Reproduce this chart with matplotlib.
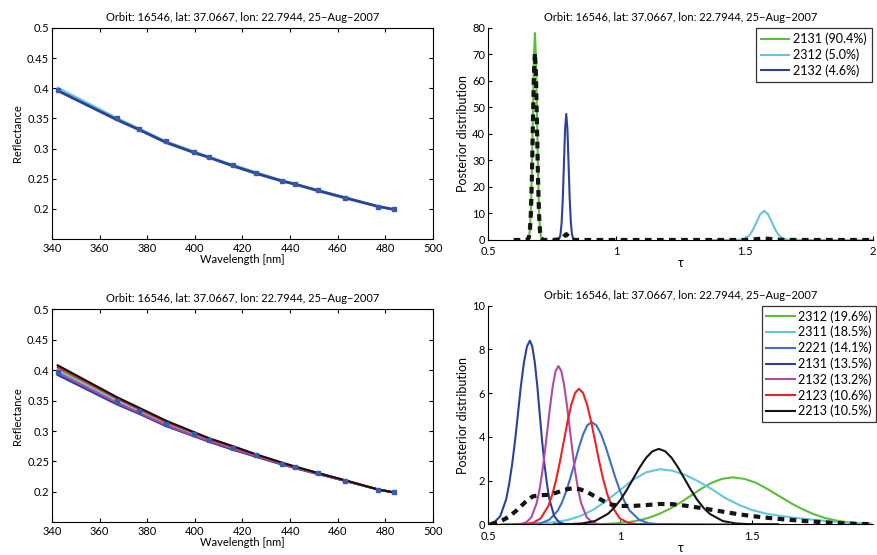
import numpy as np
import matplotlib
matplotlib.use('Agg')
import matplotlib.pyplot as plt

plt.rcParams['font.family'] = ['Lato', 'DejaVu Sans']

title = 'Orbit: 16546, lat: 37.0667, lon: 22.7944, 25\u2212Aug\u22122007'

# measured reflectance
wl = [342.4, 367.1, 376.7, 387.9, 399.8, 406.1, 416.1, 425.5, 436.6, 441.9, 451.7, 463.2, 476.9, 483.6]
refl_meas = [0.397, 0.350, 0.333, 0.312, 0.295, 0.286, 0.272, 0.260, 0.246, 0.241, 0.231, 0.218, 0.203, 0.199]

# top-left model fits
fit_top_2131 = [0.397, 0.349, 0.331, 0.311, 0.294, 0.285, 0.272, 0.260, 0.247, 0.241, 0.231, 0.219, 0.204, 0.199]
fit_top_2312 = [0.401, 0.351, 0.333, 0.312, 0.295, 0.286, 0.273, 0.261, 0.247, 0.242, 0.231, 0.219, 0.204, 0.199]
fit_top_2132 = [0.396, 0.348, 0.331, 0.310, 0.293, 0.285, 0.271, 0.259, 0.246, 0.241, 0.230, 0.218, 0.204, 0.199]

# bottom-left model fits
fit_bot_2312 = [0.402, 0.352, 0.334, 0.314, 0.295, 0.286, 0.273, 0.260, 0.247, 0.241, 0.231, 0.218, 0.204, 0.199]
fit_bot_2311 = [0.399, 0.350, 0.332, 0.312, 0.294, 0.285, 0.272, 0.260, 0.246, 0.240, 0.230, 0.218, 0.204, 0.199]
fit_bot_2221 = [0.394, 0.346, 0.329, 0.309, 0.292, 0.283, 0.270, 0.258, 0.245, 0.240, 0.230, 0.218, 0.204, 0.199]
fit_bot_2131 = [0.392, 0.344, 0.328, 0.308, 0.291, 0.282, 0.269, 0.258, 0.245, 0.239, 0.229, 0.218, 0.204, 0.199]
fit_bot_2132 = [0.396, 0.347, 0.330, 0.310, 0.292, 0.284, 0.271, 0.259, 0.246, 0.240, 0.230, 0.218, 0.204, 0.199]
fit_bot_2123 = [0.405, 0.354, 0.336, 0.315, 0.297, 0.287, 0.274, 0.261, 0.248, 0.241, 0.231, 0.219, 0.204, 0.199]
fit_bot_2213 = [0.408, 0.356, 0.338, 0.317, 0.298, 0.288, 0.275, 0.262, 0.248, 0.242, 0.231, 0.219, 0.204, 0.199]

# top-right posteriors
tr_tau_2131 = [0.650, 0.659, 0.663, 0.667, 0.671, 0.675, 0.679, 0.683, 0.687, 0.691, 0.695, 0.699, 0.703, 0.707, 0.715, 0.720]
tr_p_2131 = [0.0, 0.87, 3.4, 10.6, 25.3, 47.3, 68.8, 78.0, 68.8, 47.3, 25.3, 10.6, 3.4, 0.87, 0.03, 0.0]
tr_tau_2312 = [1.370, 1.456, 1.486, 1.501, 1.516, 1.531, 1.546, 1.561, 1.576, 1.591, 1.606, 1.621, 1.636, 1.651, 1.666, 1.696, 2.0]
tr_p_2312 = [0.0, 0.0, 0.12, 0.48, 1.49, 3.57, 6.67, 9.71, 11.0, 9.71, 6.67, 3.57, 1.49, 0.48, 0.12, 0.0, 0.0]
tr_tau_2132 = [0.755, 0.778, 0.7825, 0.787, 0.7915, 0.796, 0.8005, 0.805, 0.8095, 0.814, 0.8185, 0.823, 0.8275, 0.832, 0.841]
tr_p_2132 = [0.0, 0.53, 2.09, 6.43, 15.4, 28.8, 41.9, 47.5, 41.9, 28.8, 15.4, 6.43, 2.09, 0.53, 0.0]
tr_tau_mix = [0.60, 0.650, 0.659, 0.663, 0.667, 0.671, 0.675, 0.679, 0.683, 0.687, 0.691, 0.695, 0.699, 0.703,
              0.707, 0.715, 0.75, 0.787, 0.796, 0.805, 0.814, 0.823, 0.84, 1.50, 1.516, 1.546, 1.576, 1.606,
              1.636, 1.70, 2.0]
tr_p_mix = [0.0, 0.0, 0.79, 3.07, 9.58, 22.9, 42.8, 62.2, 70.5, 62.2, 42.8, 22.9, 9.58, 3.07,
            0.79, 0.03, 0.0, 0.30, 1.32, 2.19, 1.32, 0.30, 0.0, 0.0, 0.07, 0.33, 0.55, 0.33,
            0.07, 0.0, 0.0]

# bottom-right posteriors
br_tau_2312 = [0.90, 0.948, 0.988, 1.028, 1.068, 1.108, 1.148, 1.188, 1.228, 1.268, 1.308, 1.348, 1.388, 1.428,
               1.472, 1.516, 1.559, 1.603, 1.647, 1.691, 1.734, 1.778, 1.822, 1.866, 1.909, 1.95]
br_p_2312 = [0.0, 0.02, 0.05, 0.09, 0.17, 0.29, 0.47, 0.70, 0.98, 1.30, 1.62, 1.90, 2.08, 2.15,
             2.08, 1.90, 1.62, 1.30, 0.98, 0.70, 0.47, 0.29, 0.17, 0.09, 0.05, 0.03]
br_tau_2311 = [0.60, 0.73, 0.80, 0.85, 0.90, 0.95, 1.00, 1.05, 1.10, 1.152, 1.20, 1.25, 1.30, 1.35, 1.40,
               1.45, 1.50, 1.55, 1.60, 1.65, 1.70, 1.75, 1.80, 1.85, 1.90, 1.95]
br_p_2311 = [0.0, 0.06, 0.19, 0.38, 0.67, 1.08, 1.56, 2.03, 2.38, 2.52, 2.45, 2.25, 1.95, 1.60, 1.20,
             0.90, 0.66, 0.50, 0.40, 0.32, 0.25, 0.19, 0.13, 0.08, 0.05, 0.03]
br_tau_2221 = [0.62, 0.669, 0.701, 0.733, 0.765, 0.781, 0.797, 0.813, 0.829, 0.845, 0.861, 0.877, 0.893,
               0.911, 0.929, 0.947, 0.965, 0.983, 1.001, 1.019, 1.037, 1.073, 1.109, 1.145, 1.41]
br_p_2221 = [0.0, 0.01, 0.05, 0.21, 0.63, 1.01, 1.52, 2.14, 2.83, 3.52, 4.12, 4.53, 4.67,
             4.53, 4.12, 3.52, 2.83, 2.14, 1.52, 1.01, 0.63, 0.21, 0.05, 0.01, 0.0]
br_tau_2131 = [0.50, 0.524, 0.5465, 0.569, 0.580, 0.5915, 0.603, 0.614, 0.625, 0.6365, 0.648, 0.659,
               0.668, 0.6775, 0.687, 0.696, 0.705, 0.7145, 0.724, 0.733, 0.7515, 0.770, 0.7885, 0.814, 0.90]
br_p_2131 = [0.02, 0.09, 0.37, 1.14, 1.82, 2.73, 3.85, 5.09, 6.34, 7.41, 8.14, 8.40,
             8.14, 7.41, 6.34, 5.09, 3.85, 2.73, 1.82, 1.14, 0.37, 0.09, 0.02, 0.0, 0.0]
br_tau_2132 = [0.55, 0.6235, 0.644, 0.6645, 0.685, 0.6953, 0.7055, 0.7158, 0.726, 0.7363, 0.7465, 0.7568, 0.767,
               0.7778, 0.7885, 0.7993, 0.810, 0.8208, 0.8315, 0.8423, 0.853, 0.8745, 0.896, 0.9175, 1.0]
br_p_2132 = [0.0, 0.016, 0.08, 0.32, 0.98, 1.57, 2.35, 3.31, 4.39, 5.46, 6.39, 7.02, 7.24,
             7.02, 6.39, 5.46, 4.39, 3.31, 2.35, 1.57, 0.98, 0.32, 0.08, 0.016, 0.0]
br_tau_2123 = [0.60, 0.642, 0.671, 0.700, 0.729, 0.7435, 0.758, 0.7725, 0.787, 0.8015, 0.816, 0.8305, 0.845,
               0.8605, 0.876, 0.8915, 0.907, 0.9225, 0.938, 0.9535, 0.969, 1.000, 1.031, 1.062, 1.22]
br_p_2123 = [0.0, 0.014, 0.07, 0.27, 0.84, 1.34, 2.01, 2.84, 3.76, 4.68, 5.47, 6.01, 6.20,
             6.01, 5.47, 4.68, 3.76, 2.84, 2.01, 1.34, 0.84, 0.27, 0.07, 0.014, 0.0]
br_tau_2213 = [0.75, 0.8085, 0.857, 0.9055, 0.954, 0.9783, 1.0025, 1.0268, 1.051, 1.0753, 1.0995, 1.1238, 1.148,
               1.1723, 1.1965, 1.2208, 1.245, 1.2693, 1.2935, 1.3178, 1.342, 1.3905, 1.439, 1.4875, 1.60]
br_p_2213 = [0.0, 0.008, 0.04, 0.15, 0.47, 0.75, 1.12, 1.58, 2.09, 2.60, 3.04, 3.34, 3.45,
             3.34, 3.04, 2.60, 2.09, 1.58, 1.12, 0.75, 0.47, 0.15, 0.04, 0.008, 0.0]
br_tau_mix = [0.51, 0.55, 0.58, 0.61, 0.64, 0.67, 0.70, 0.73, 0.76, 0.79, 0.82, 0.85, 0.88, 0.91, 0.94,
              0.97, 1.00, 1.05, 1.10, 1.15, 1.20, 1.25, 1.30, 1.35, 1.40, 1.45, 1.50, 1.55, 1.60, 1.65,
              1.70, 1.75, 1.80, 1.85, 1.90, 1.95]
br_p_mix = [0.0, 0.15, 0.35, 0.65, 1.0, 1.28, 1.33, 1.35, 1.45, 1.58, 1.65, 1.6, 1.45, 1.25, 1.05,
            0.9, 0.84, 0.84, 0.88, 0.93, 0.92, 0.85, 0.76, 0.66, 0.56, 0.46, 0.38, 0.31, 0.25, 0.2,
            0.15, 0.11, 0.07, 0.04, 0.02, 0.01]

green = '#5cbd3c'
cyan = '#64c6dc'
blue = '#3f6fc2'
dblue = '#2c419b'
purple = '#b14aa6'
red = '#ee2126'
black = '#141414'
meas_col = '#3b5aa8'

fig = plt.figure(figsize=(8.77, 5.55), dpi=100)

ax1 = fig.add_axes([0.0593, 0.5694, 0.4344, 0.3802])
ax2 = fig.add_axes([0.5564, 0.5676, 0.4390, 0.3825])
ax3 = fig.add_axes([0.0593, 0.0589, 0.4344, 0.3838])
ax4 = fig.add_axes([0.5564, 0.0553, 0.4390, 0.3939])

lw = 1.5

# top left
ax1.plot(wl, fit_top_2312, color=cyan, lw=lw)
ax1.plot(wl, fit_top_2131, color=green, lw=lw)
ax1.plot(wl, fit_top_2132, color=dblue, lw=2.0)
ax1.plot(wl, refl_meas, 's', color=meas_col, ms=3.5, mec=meas_col)

# bottom left
for vals, c in [(fit_bot_2312, green), (fit_bot_2311, cyan), (fit_bot_2221, blue), (fit_bot_2131, dblue),
                (fit_bot_2132, purple), (fit_bot_2123, red), (fit_bot_2213, black)]:
    ax3.plot(wl, vals, color=c, lw=lw)
ax3.plot(wl, refl_meas, 's', color=meas_col, ms=3.5, mec=meas_col)

for ax in [ax1, ax3]:
    ax.set_xlim(340, 500)
    ax.set_ylim(0.15, 0.5)
    ax.set_xticks(np.arange(340, 501, 20))
    ax.set_yticks([0.2, 0.25, 0.3, 0.35, 0.4, 0.45, 0.5])
    ax.set_yticklabels(['0.2', '0.25', '0.3', '0.35', '0.4', '0.45', '0.5'])
    ax.tick_params(direction='in', top=True, right=True, labelsize=8, length=3, width=0.8, pad=2)
    ax.tick_params(axis='x', pad=3)
    ax.set_xlabel('Wavelength [nm]', fontsize=8, labelpad=0)
    ax.set_ylabel('Reflectance', fontsize=8, labelpad=3)
    ax.set_title(title, fontsize=8, pad=5)
    for s in ax.spines.values():
        s.set_linewidth(0.8)

# top right
ax2.plot(tr_tau_2131, tr_p_2131, color=green, lw=lw, label='2131 (90.4%)')
ax2.plot(tr_tau_2312, tr_p_2312, color=cyan, lw=lw, label='2312 (5.0%)')
ax2.plot(tr_tau_2132, tr_p_2132, color=dblue, lw=lw, label='2132 (4.6%)')
ax2.plot(tr_tau_mix, tr_p_mix, color=black, lw=3, dashes=(1.6, 1.3), dash_capstyle='butt')
ax2.set_xlim(0.5, 2)
ax2.set_ylim(0, 80)
ax2.set_xticks([0.5, 1, 1.5, 2])
ax2.set_xticklabels(['0.5', '1', '1.5', '2'])
ax2.set_yticks(np.arange(0, 81, 10))
leg2 = ax2.legend(loc='upper right', bbox_to_anchor=(0.9966, 1.0), fontsize=9, frameon=True,
                  fancybox=False, edgecolor='black', handlelength=2.3, handletextpad=0.3,
                  labelspacing=0.26, borderpad=0.4, borderaxespad=0)

# bottom right
br = [(br_tau_2312, br_p_2312, green, '2312 (19.6%)'),
      (br_tau_2311, br_p_2311, cyan, '2311 (18.5%)'),
      (br_tau_2221, br_p_2221, blue, '2221 (14.1%)'),
      (br_tau_2131, br_p_2131, dblue, '2131 (13.5%)'),
      (br_tau_2132, br_p_2132, purple, '2132 (13.2%)'),
      (br_tau_2123, br_p_2123, red, '2123 (10.6%)'),
      (br_tau_2213, br_p_2213, black, '2213 (10.5%)')]
for t, p, c, lab in br:
    ax4.plot(t, p, color=c, lw=lw, label=lab)
ax4.plot(br_tau_mix, br_p_mix, color=black, lw=3, dashes=(1.6, 1.3), dash_capstyle='butt')
ax4.set_xlim(0.5, 1.96)
ax4.set_ylim(0, 10)
ax4.set_xticks([0.5, 1, 1.5])
ax4.set_xticklabels(['0.5', '1', '1.5'])
ax4.set_yticks(np.arange(0, 11, 2))
leg4 = ax4.legend(loc='upper right', bbox_to_anchor=(1.009, 1.0), fontsize=9, frameon=True,
                  fancybox=False, edgecolor='black', handlelength=2.3, handletextpad=0.3,
                  labelspacing=0.26, borderpad=0.35, borderaxespad=0)

for ax in [ax2, ax4]:
    ax.spines['top'].set_visible(False)
    ax.spines['right'].set_visible(False)
    ax.tick_params(direction='in', labelsize=8, length=3, width=0.8, pad=2)
    ax.tick_params(axis='x', pad=4.5)
    ax.set_xlabel('\u03c4', fontsize=9, labelpad=0)
    ax.set_ylabel('Posterior distribution', fontsize=9, labelpad=2)
    ax.set_title(title, fontsize=8, pad=5)
    for s in ax.spines.values():
        s.set_linewidth(0.8)

for leg in [leg2, leg4]:
    leg.get_frame().set_linewidth(0.9)

fig.savefig('out.png', dpi=100)
